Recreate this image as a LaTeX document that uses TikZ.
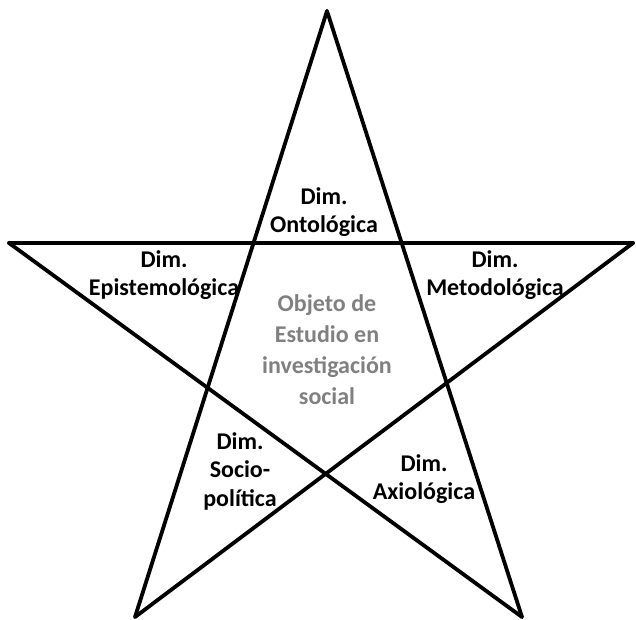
\documentclass[tikz,border=0pt]{standalone}
\usepackage{fontspec}
\setmainfont{Carlito}
\begin{document}
\begin{tikzpicture}[x=1pt,y=-1pt,
  edge/.style={line width=3.8pt,line cap=round,line join=round},
  lbl/.style={font=\fontsize{24}{28.5}\selectfont\bfseries,align=center,text=black,inner sep=0pt},
  glbl/.style={font=\fontsize{24}{31}\selectfont\bfseries,align=center,text=black!50,inner sep=0pt}]
\useasboundingbox (0,0) rectangle (636,619);
\coordinate (T) at (327,11);
\coordinate (L) at (9,243);
\coordinate (R) at (633,243);
\coordinate (BL) at (135,617);
\coordinate (BR) at (522,617);
\draw[edge] (T) -- (BL);
\draw[edge] (T) -- (BR);
\draw[edge] (L) -- (R);
\draw[edge] (L) -- (BR);
\draw[edge] (R) -- (BL);
\node[lbl] (ont) at (324,212) {Dim.\\Ontológica};
\node[lbl] (epi) at (164,275) {Dim.\\Epistemológica};
\node[lbl] (met) at (495,275) {Dim.\\Metodológica};
\node[glbl] (obj) at (327,350) {Objeto de\\Estudio en\\investigación\\social};
\node[lbl] (soc) at (240,471) {Dim.\\Socio-\\política};
\node[lbl] (axi) at (424,479) {Dim.\\Axiológica};
\end{tikzpicture}
\end{document}
